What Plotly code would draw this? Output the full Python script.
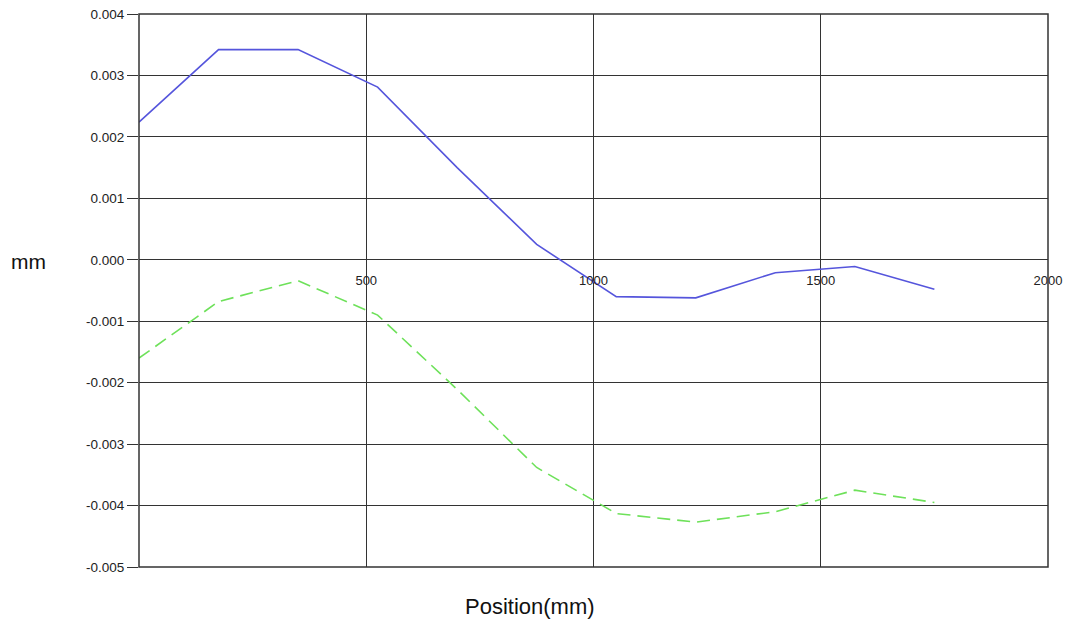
import plotly.graph_objects as go

positions = [0, 175, 350, 525, 700, 875, 1050, 1225, 1400, 1575, 1750]
series_a = [0.00224, 0.00342, 0.00342, 0.00281, 0.00150, 0.00025, -0.00060, -0.00062, -0.00021, -0.00011, -0.00048]
series_b = [-0.00160, -0.00068, -0.00034, -0.00090, -0.00211, -0.00338, -0.00413, -0.00427, -0.00410, -0.00375, -0.00395]

x_ticks = [500, 1000, 1500, 2000]
x_tick_labels = ["500", "1000", "1500", "2000"]
y_ticks = [0.004, 0.003, 0.002, 0.001, 0.0, -0.001, -0.002, -0.003, -0.004, -0.005]
y_tick_labels = ["0.004", "0.003", "0.002", "0.001", "0.000", "-0.001", "-0.002", "-0.003", "-0.004", "-0.005"]

fig = go.Figure()
fig.add_trace(go.Scatter(x=positions, y=series_a, mode="lines",
                         line=dict(color="rgb(85,85,220)", width=1.6), showlegend=False))
fig.add_trace(go.Scatter(x=positions, y=series_b, mode="lines",
                         line=dict(color="rgb(110,225,90)", width=1.6, dash="13px,7px"), showlegend=False))

font_family = "Liberation Sans, Arial, sans-serif"

fig.update_layout(
    width=1071, height=627,
    margin=dict(l=139, r=23, t=14, b=60, autoexpand=False),
    paper_bgcolor="white", plot_bgcolor="white",
    font=dict(family=font_family, color="#222"),
    xaxis=dict(range=[0, 2000], tickvals=x_ticks, ticktext=x_tick_labels,
               showgrid=True, gridcolor="#333", gridwidth=1.3,
               zeroline=False, showline=False, ticks="", automargin=False,
               anchor="free", position=5/9, ticklabelstandoff=11,
               tickfont=dict(size=13, color="#222")),
    yaxis=dict(range=[-0.005, 0.004], tickvals=y_ticks, ticktext=y_tick_labels,
               showgrid=True, gridcolor="#333", gridwidth=1.3,
               zeroline=True, zerolinecolor="#333", zerolinewidth=1.3,
               ticks="outside", ticklen=11, tickcolor="#333", tickwidth=1.3,
               showline=False, automargin=False,
               tickfont=dict(size=13.5, color="#222")),
    shapes=[dict(type="rect", xref="paper", yref="paper", x0=0, x1=1, y0=0, y1=1,
                 line=dict(color="#333", width=1.5), fillcolor="rgba(0,0,0,0)", layer="above")],
    annotations=[
        dict(text="mm", xref="paper", yref="paper", x=0, y=5/9, xanchor="center",
             yanchor="middle", showarrow=False, font=dict(size=21, color="#111"),
             xshift=-111, yshift=-2),
        dict(text="Position(mm)", xref="paper", yref="paper", x=0.4305, y=0,
             xanchor="center", yanchor="top", yshift=-25, showarrow=False,
             font=dict(size=22, color="#111")),
    ],
)

fig.write_html("out.html", config={"displayModeBar": False},
               post_script="document.body.style.margin='0';")
